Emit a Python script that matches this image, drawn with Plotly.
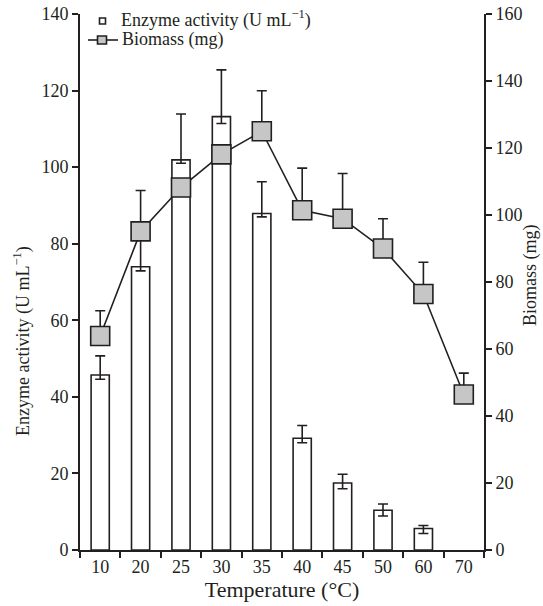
import plotly.graph_objects as go

temps = ["10", "20", "25", "30", "35", "40", "45", "50", "60", "70"]
enzyme = [45.7, 74.0, 101.9, 113.2, 87.9, 29.2, 17.5, 10.4, 5.6, None]
enzyme_err_plus = [5.0, 9.0, 12.0, 12.2, 8.3, 3.3, 2.3, 1.6, 0.8, 0]
enzyme_err_minus = [1.1, 1.1, 0.9, 1.8, 0.9, 1.2, 1.5, 1.5, 1.3, 0]
biomass = [63.9, 95.1, 108.2, 118.1, 125.0, 101.4, 98.9, 90.0, 76.4, 46.4]
biomass_err_plus = [7.5, 12.2, 0, 0, 12.1, 12.6, 13.5, 8.9, 9.5, 6.4]

INK = "#231f20"
FONT = "Liberation Serif"
FS = 18

W, H = 543, 606
# plot area in pixels
L, R, T, B = 80, 484, 14, 550


def px(x):
    return (x - L) / (R - L)


def py(y):
    return (B - y) / (B - T)


fig = go.Figure()
fig.add_trace(go.Bar(
    x=temps, y=enzyme, width=0.45, showlegend=False,
    marker=dict(color="white", line=dict(color=INK, width=1.6)),
    error_y=dict(type="data", symmetric=False, array=enzyme_err_plus,
                 arrayminus=enzyme_err_minus, color=INK, thickness=1.6, width=5),
    yaxis="y",
))
fig.add_trace(go.Scatter(
    x=temps, y=biomass, mode="lines+markers", showlegend=False,
    line=dict(color=INK, width=1.6),
    marker=dict(symbol="square", size=19, color="#c6c6c6", line=dict(color=INK, width=1.6)),
    error_y=dict(type="data", symmetric=False, array=biomass_err_plus,
                 arrayminus=[0] * len(biomass), color=INK, thickness=1.6, width=5),
    yaxis="y2",
))

axis_common = dict(ticks="outside", ticklen=6, tickwidth=1.6, tickcolor=INK,
                   showline=True, linecolor=INK, linewidth=1.6, showgrid=False,
                   automargin=False, ticklabeloverflow="allow",
                   tickfont=dict(family=FONT, size=FS, color=INK))

fig.update_layout(
    width=W, height=H,
    margin=dict(l=L, r=W - R, t=T, b=H - B),
    plot_bgcolor="white", paper_bgcolor="white",
    font=dict(family=FONT, size=FS, color=INK),
    showlegend=False,
    xaxis=dict(type="category", range=[-0.5, 9.5], tickson="boundaries",
               title=dict(text="Temperature (°C)", standoff=2), **axis_common),
    yaxis=dict(range=[0, 140], dtick=20, zeroline=False, **axis_common),
    yaxis2=dict(range=[0, 160], dtick=20, zeroline=False, side="right",
                overlaying="y", **axis_common),
)

# Axis titles as annotations
fig.add_annotation(xref="paper", yref="paper", x=px(22), y=py(341),
                   text="Enzyme activity (U mL<sup>\u22121</sup>)", textangle=-90,
                   showarrow=False, xanchor="center", yanchor="middle",
                   font=dict(size=FS, family=FONT, color=INK))
fig.add_annotation(xref="paper", yref="paper", x=px(530), y=py(275),
                   text="Biomass (mg)", textangle=-90,
                   showarrow=False, xanchor="center", yanchor="middle",
                   font=dict(size=FS, family=FONT, color=INK))

# Legend drawn as shapes + annotations
fig.add_shape(type="rect", xref="paper", yref="paper",
              x0=px(99.5), x1=px(105.5), y0=py(24), y1=py(18),
              line=dict(color=INK, width=1.6), fillcolor="white")
fig.add_annotation(xref="paper", yref="paper", x=px(119), y=py(19),
                   text="Enzyme activity (U mL<sup>\u22121</sup>)", showarrow=False,
                   xanchor="left", yanchor="middle", font=dict(size=FS, family=FONT, color=INK))
fig.add_shape(type="line", xref="paper", yref="paper",
              x0=px(88), x1=px(118), y0=py(40), y1=py(40),
              line=dict(color=INK, width=1.6))
fig.add_shape(type="rect", xref="paper", yref="paper",
              x0=px(97.5), x1=px(106.5), y0=py(44), y1=py(36),
              line=dict(color=INK, width=1.6), fillcolor="#c6c6c6")
fig.add_annotation(xref="paper", yref="paper", x=px(120), y=py(39),
                   text="Biomass (mg)", showarrow=False,
                   xanchor="left", yanchor="middle", font=dict(size=FS, family=FONT, color=INK))

# remove the default 8px page margin so the figure fills the window exactly
fig.write_html("out.html", config={"displayModeBar": False},
               post_script="document.body.style.margin='0';")
